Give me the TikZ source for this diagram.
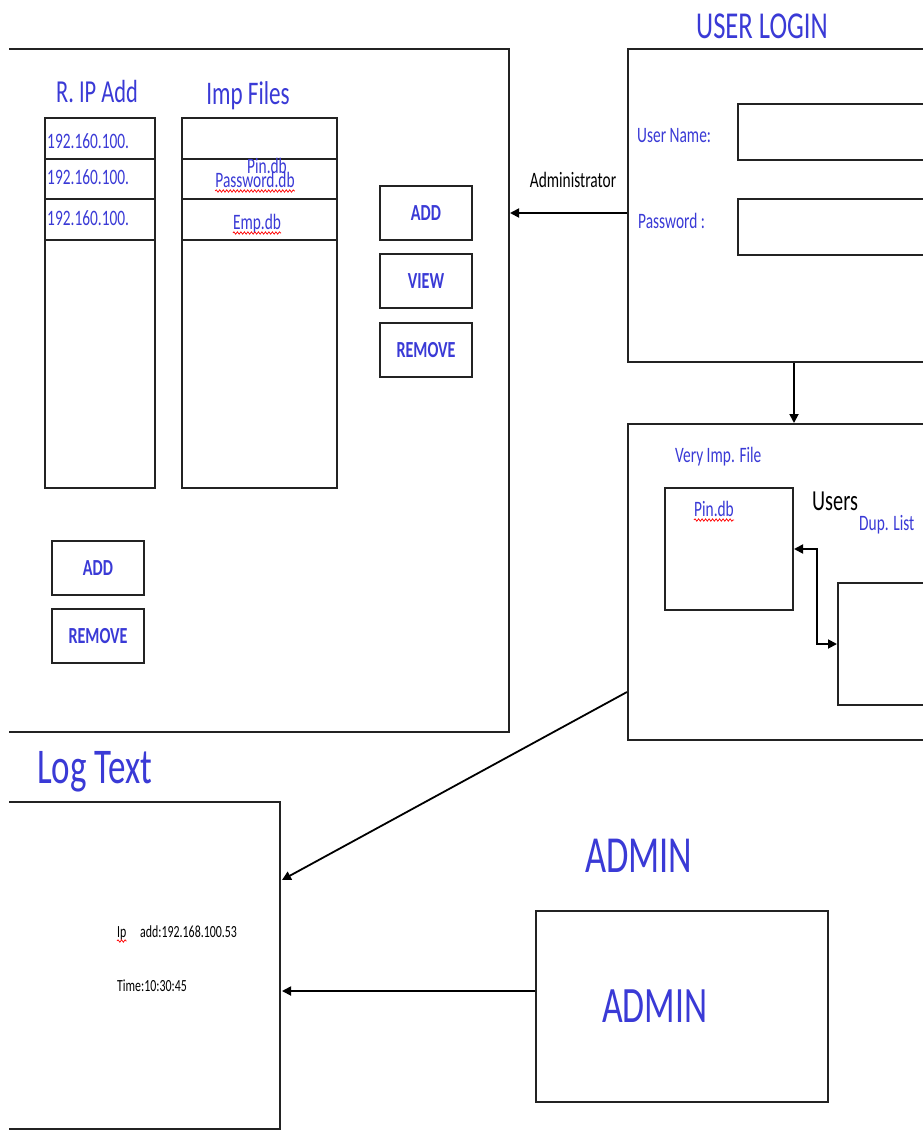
\documentclass[tikz,border=0pt]{standalone}
\usepackage{fontspec}
\usepackage{graphicx}
\setmainfont{Carlito}
\usetikzlibrary{arrows.meta,calc,decorations.pathmorphing}
\definecolor{bluetxt}{RGB}{58,58,214}
\definecolor{linec}{RGB}{35,35,35}
\newcommand\myfs[1]{\fontsize{#1}{#1}\selectfont}
\newcommand\sq[1]{\scalebox{0.7}[1]{#1}}
\begin{document}
\begin{tikzpicture}[x=1pt,y=-1pt,
  box/.style={draw=linec,line width=2pt,inner sep=0pt},
  nwbox/.style={box,anchor=north west},
  btn/.style={box,minimum width=92pt,minimum height=54pt,font=\bfseries\myfs{23},text=bluetxt},
  lbl/.style={inner sep=0pt,text=bluetxt},
  blk/.style={inner sep=0pt,text=black},
  arr/.style={draw=black,line width=1.8pt,-{Triangle[length=9pt,width=9pt]}},
  arrtwo/.style={draw=black,line width=1.8pt,{Triangle[length=9pt,width=9pt]}-{Triangle[length=9pt,width=9pt]}},
  wavy/.style={draw=red,line width=0.7pt,decorate,decoration={snake,amplitude=1.2pt,segment length=3.5pt}}]
\useasboundingbox (0,0) rectangle (923,1138);
\fill[white] (0,0) rectangle (923,1138);
\clip (0,0) rectangle (923,1138);

% ---------- boxes cut at the left edge ----------
\begin{scope}
\clip (9,0) rectangle (923,1138);
\node[box,anchor=north east,minimum width=530pt,minimum height=683pt] (leftbox) at (510,48) {};
\node[box,anchor=north east,minimum width=300pt,minimum height=327pt] (log) at (281,801) {};
\end{scope}

% ---------- left big box ----------
\node[lbl,anchor=base,font=\myfs{32}] (riphead) at (97,102) {\sq{R. IP Add}};
\node[lbl,anchor=base,font=\myfs{33}] (imphead) at (248,104) {\sq{Imp Files}};

\node[nwbox,minimum width=110pt,minimum height=41pt] (ip1) at (44,117) {};
\node[nwbox,minimum width=110pt,minimum height=40pt] (ip2) at (44,158) {};
\node[nwbox,minimum width=110pt,minimum height=41pt] (ip3) at (44,198) {};
\node[nwbox,minimum width=110pt,minimum height=248pt] (ip4) at (44,239) {};
\node[nwbox,minimum width=155pt,minimum height=41pt] (im1) at (181,117) {};
\node[nwbox,minimum width=155pt,minimum height=40pt] (im2) at (181,158) {};
\node[nwbox,minimum width=155pt,minimum height=41pt] (im3) at (181,198) {};
\node[nwbox,minimum width=155pt,minimum height=248pt] (im4) at (181,239) {};

\node[lbl,anchor=base west,font=\myfs{22}] (ipt1) at (47,148) {\sq{192.160.100.}};
\node[lbl,anchor=base west,font=\myfs{22}] (ipt2) at (47,184) {\sq{192.160.100.}};
\node[lbl,anchor=base west,font=\myfs{22}] (ipt3) at (47,225) {\sq{192.160.100.}};

\node[lbl,anchor=base,font=\myfs{22}] (pinA) at (267,173) {\sq{Pin.db}};
\node[lbl,anchor=base,font=\myfs{22}] (pwd) at (255,187) {\sq{Password.db}};
\node[lbl,anchor=base,font=\myfs{22}] (emp) at (257,229) {\sq{Emp.db}};
\draw[wavy] ($(pwd.base west)+(0,4)$) -- ($(pwd.base east)+(0,4)$);
\draw[wavy] ($(emp.base west)+(0,4)$) -- ($(emp.base east)+(0,4)$);

\node[btn] (addA) at (426,213) {\sq{ADD}};
\node[btn] (viewA) at (426,281) {\sq{VIEW}};
\node[btn] (remA) at (426,350) {\sq{REMOVE}};
\node[btn] (addB) at (98,568) {\sq{ADD}};
\node[btn] (remB) at (98,636) {\sq{REMOVE}};

% ---------- user login ----------
\node[lbl,font=\myfs{38},anchor=base] (ulogin) at (762,38) {\sq{USER LOGIN}};
\node[nwbox,minimum width=400pt,minimum height=313pt] (login) at (627,48) {};
\node[nwbox,minimum width=300pt,minimum height=56pt] (unfield) at (737,103) {};
\node[nwbox,minimum width=300pt,minimum height=56pt] (pwfield) at (737,198) {};
\node[lbl,anchor=base west,font=\myfs{22}] (unlbl) at (637,142) {\sq{User Name:}};
\node[lbl,anchor=base west,font=\myfs{22}] (pwlbl) at (638,228) {\sq{Password :}};

\node[blk,anchor=base,font=\myfs{22}] (admlbl) at (573,187) {\sq{Administrator}};
\draw[arr] (login.west |- addA) -- (leftbox.east |- addA);

% ---------- second right box ----------
\node[nwbox,minimum width=400pt,minimum height=316pt] (sec) at (627,423) {};
\node[nwbox,minimum width=128pt,minimum height=122pt] (pinbox) at (664,487) {};
\node[nwbox,minimum width=200pt,minimum height=122pt] (dup) at (837,582) {};
\node[lbl,anchor=base west,font=\myfs{22}] (vimp) at (675,462) {\sq{Very Imp. File}};
\node[lbl,anchor=base,font=\myfs{22}] (pinB) at (714,516) {\sq{Pin.db}};
\draw[wavy] ($(pinB.base west)+(0,4)$) -- ($(pinB.base east)+(0,4)$);
\node[blk,anchor=base west,font=\myfs{29}] (users) at (812,510) {\sq{Users}};
\node[lbl,anchor=base west,font=\myfs{22}] (duplist) at (859,530) {\sq{Dup. List}};

\draw[arr] (login.south -| pinbox.east) -- (sec.north -| pinbox.east);
\draw[arrtwo] (pinbox.east) -- ++(23,0) |- (dup.west);

% ---------- log text ----------
\node[lbl,anchor=base west,font=\myfs{50}] (loghead) at (37,783) {\sq{Log Text}};
\node[blk,anchor=base west,font=\myfs{17}] (iplbl) at (117,937) {\sq{Ip}};
\draw[wavy] ($(iplbl.base west)+(0,4)$) -- ($(iplbl.base east)+(0,4)$);
\node[blk,anchor=base west,font=\myfs{17}] (ipval) at (140,937) {\sq{add:192.168.100.53}};
\node[blk,anchor=base west,font=\myfs{17}] (timeval) at (117,991) {\sq{Time:10:30:45}};

\coordinate (diagStart) at ($(sec.south west)+(0,-49)$);
\coordinate (diagEnd) at ($(log.north east)+(1,79)$);
\draw[arr] (diagStart) -- (diagEnd);

% ---------- admin ----------
\node[lbl,anchor=base west,font=\myfs{52}] (admhead) at (585,872) {\sq{ADMIN}};
\node[nwbox,minimum width=292pt,minimum height=191pt] (adminbox) at (535,910) {};
\node[lbl,anchor=base west,font=\myfs{51}] (admin) at (602,1022) {\sq{ADMIN}};
\coordinate (admOut) at ($(adminbox.north west)+(0,81)$);
\draw[arr] (admOut) -- (admOut -| diagEnd);
\end{tikzpicture}
\end{document}
